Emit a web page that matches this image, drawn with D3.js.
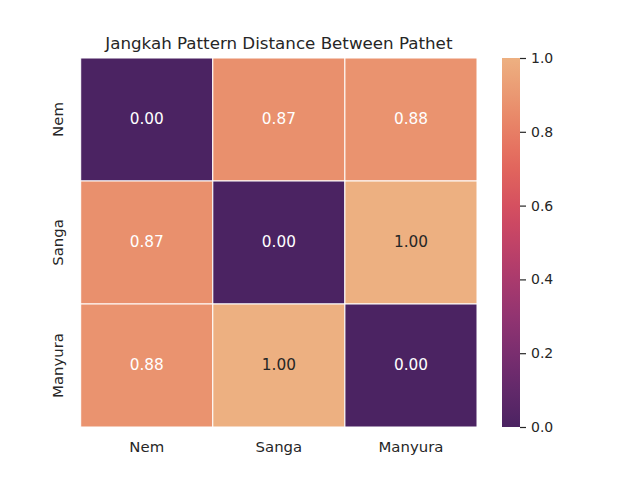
<!DOCTYPE html>
<html>
<head>
<meta charset="utf-8">
<script src="https://cdn.jsdelivr.net/npm/d3@7"></script>
<style>
  body { margin: 0; background: #fff; }
  text { font-family: "DejaVu Sans", sans-serif; fill: #262626; }
</style>
</head>
<body>
<div id="chart"></div>
<script>
// Datos de la matriz de distancias
const pathets = ["Nem", "Sanga", "Manyura"];
const distances = [
    [0.00, 0.87, 0.88],
    [0.87, 0.00, 1.00],
    [0.88, 1.00, 0.00]
];
const colorTicks = [0.0, 0.2, 0.4, 0.6, 0.8, 1.0];
const chartTitle = "Jangkah Pattern Distance Between Pathet";

// Paleta "flare_r" aproximada
const flareStops = ["#4b2362", "#6c2b6d", "#8f3371", "#b13c6c", "#d14a61", "#e3685c", "#e98d6b", "#edb081"];
const flarePos = [0, 1 / 7, 2 / 7, 3 / 7, 4 / 7, 5 / 7, 6 / 7, 1];

const width = 640, height = 480;
const margin = { left: 80.7, top: 58, right: 477, bottom: 427 };

const svg = d3.select("#chart").append("svg")
    .attr("width", width)
    .attr("height", height);

const color = d3.scaleLinear().domain(flarePos).range(flareStops).interpolate(d3.interpolateRgb).clamp(true);

const x = d3.scaleBand().domain(pathets).range([margin.left, margin.right]);
const y = d3.scaleBand().domain(pathets).range([margin.top, margin.bottom]);

// Color del texto según luminancia (como seaborn)
function textColor(c) {
    const rgb = d3.rgb(c);
    const lin = v => { v /= 255; return v <= 0.03928 ? v / 12.92 : Math.pow((v + 0.055) / 1.055, 2.4); };
    const lum = 0.2126 * lin(rgb.r) + 0.7152 * lin(rgb.g) + 0.0722 * lin(rgb.b);
    return lum > 0.408 ? "#262626" : "#ffffff";
}

const cells = [];
distances.forEach((row, i) => row.forEach((v, j) => cells.push({ row: pathets[i], col: pathets[j], value: v })));

svg.selectAll("rect.cell")
    .data(cells)
    .enter().append("rect")
    .attr("class", "cell")
    .attr("x", d => x(d.col))
    .attr("y", d => y(d.row))
    .attr("width", x.bandwidth())
    .attr("height", y.bandwidth())
    .attr("fill", d => color(d.value))
    .attr("stroke", "white")
    .attr("stroke-width", 1);

svg.selectAll("text.annot")
    .data(cells)
    .enter().append("text")
    .attr("class", "annot")
    .attr("x", d => x(d.col) + x.bandwidth() / 2)
    .attr("y", d => y(d.row) + y.bandwidth() / 2 - 0.5)
    .attr("text-anchor", "middle")
    .attr("dominant-baseline", "central")
    .style("font-size", "15.3px")
    .style("fill", d => textColor(color(d.value)))
    .text(d => d.value.toFixed(2));

// Etiquetas de ejes
const xAxis = svg.append("g")
    .attr("transform", `translate(0,${margin.bottom})`)
    .call(d3.axisBottom(x).tickSize(0).tickPadding(14));
xAxis.select(".domain").remove();
xAxis.selectAll("text").style("font-size", "14.9px").style("fill", "#262626").style("font-family", "DejaVu Sans");

svg.selectAll("text.ylab")
    .data(pathets)
    .enter().append("text")
    .attr("class", "ylab")
    .attr("transform", d => `translate(58,${y(d) + y.bandwidth() / 2}) rotate(-90)`)
    .attr("text-anchor", "middle")
    .attr("dominant-baseline", "central")
    .style("font-size", "14.9px")
    .text(d => d);

// Título
svg.append("text")
    .attr("x", (margin.left + margin.right) / 2)
    .attr("y", 49)
    .attr("text-anchor", "middle")
    .style("font-size", "16.7px")
    .text(chartTitle);

// Barra de color
const cbX = 502, cbW = 18;
const cbScale = d3.scaleLinear().domain([0, 1]).range([margin.bottom, margin.top]);
const defs = svg.append("defs");
const grad = defs.append("linearGradient")
    .attr("id", "cbgrad")
    .attr("x1", 0).attr("y1", 1).attr("x2", 0).attr("y2", 0);
d3.range(0, 1.0001, 0.05).forEach(t => {
    grad.append("stop").attr("offset", t).attr("stop-color", color(t));
});
svg.append("rect")
    .attr("x", cbX)
    .attr("y", margin.top)
    .attr("width", cbW)
    .attr("height", margin.bottom - margin.top)
    .attr("fill", "url(#cbgrad)");

const cbAxis = svg.append("g")
    .attr("transform", `translate(${cbX + cbW},0)`)
    .call(d3.axisRight(cbScale).tickValues(colorTicks).tickFormat(d3.format(".1f")).tickSize(6).tickPadding(5));
cbAxis.select(".domain").remove();
cbAxis.selectAll("line").attr("stroke", "#262626").attr("stroke-width", 1.2);
cbAxis.selectAll("text").style("font-size", "14px").style("fill", "#262626").style("font-family", "DejaVu Sans");
</script>
</body>
</html>
